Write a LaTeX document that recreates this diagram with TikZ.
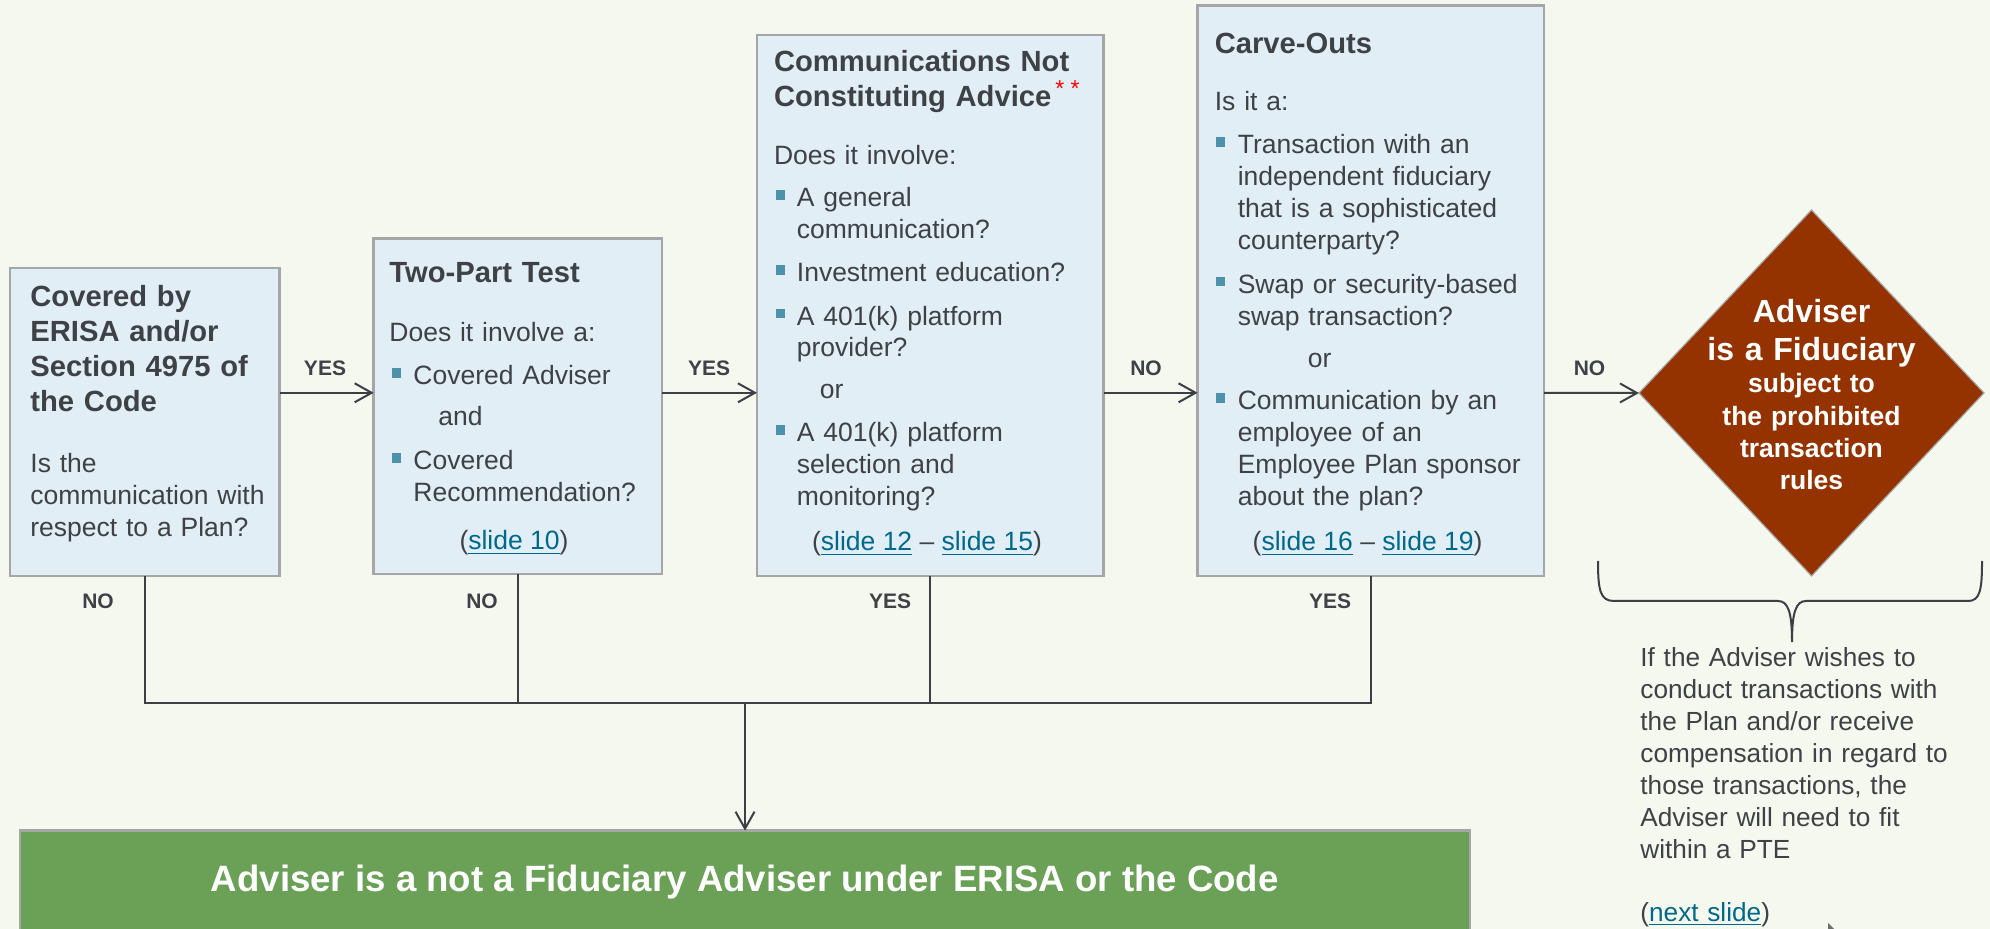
\documentclass[tikz,border=0pt]{standalone}
\usepackage{fontspec}
\setmainfont{Liberation Sans}
\usetikzlibrary{arrows.meta,shapes.geometric,fit}
\definecolor{bgc}{RGB}{244,248,238}
\definecolor{boxfill}{RGB}{226,238,246}
\definecolor{boxline}{RGB}{166,166,166}
\definecolor{txt}{RGB}{62,65,70}
\definecolor{bulc}{RGB}{75,146,170}
\definecolor{linkc}{RGB}{0,104,139}
\definecolor{dfill}{RGB}{149,51,0}
\definecolor{gfill}{RGB}{106,161,87}
\definecolor{lnc}{RGB}{60,63,68}
\definecolor{curc}{RGB}{110,110,110}
\newcommand\fbody{\fontsize{13.25}{15.8}\selectfont}
\newcommand\fttl{\fontsize{14.6}{17.5}\selectfont\bfseries}
\newcommand\flab{\fontsize{10.5}{12}\selectfont\bfseries}
\newcommand\lnk[1]{\textcolor{linkc}{\underline{#1}}}
\newcommand\bulsq[2]{\fill[bulc] (#1,#2-16.5) rectangle ++(9.4,9.4);}
\begin{document}
\begin{tikzpicture}[x=0.5pt,y=-0.5pt,
  box/.style={draw=boxline,line width=1.3pt,fill=boxfill,inner sep=0pt,outer sep=0pt},
  ttl/.style={anchor=base west,inner sep=0pt,align=left,text width=190pt,text=txt,font=\fttl},
  para/.style={anchor=base west,inner sep=0pt,align=left,text width=190pt,text=txt,font=\fbody},
  ctr/.style={anchor=base,inner sep=0pt,text=txt,font=\fbody},
  lab/.style={inner sep=0pt,text=txt,font=\flab},
  ln/.style={draw=lnc,line width=1pt},
  arr/.style={ln,-{Straight Barb[length=8.5pt,width=9.5pt]}},
]
\useasboundingbox (0,0) rectangle (1990,929);
\fill[bgc] (0,0) rectangle (1990,929);

% boxes
\node[box,fit={(10,268) (279.5,576)}] (b1) {};
\node[box,fit={(373.7,238.7) (662,574)}] (b2) {};
\node[box,fit={(757,35.2) (1103.5,576)}] (b3) {};
\node[box,fit={(1197.6,5.4) (1544,576)}] (b4) {};
\node[diamond,draw=boxline,line width=0.6pt,fill=dfill,minimum width=172.5pt,minimum height=183pt,inner sep=0pt,outer sep=0pt] (dia) at (1811.5,393) {};
\node[box,fill=gfill,fit={(20,830.7) (1470,960)}] (gbox) {};

% box 1
\node[ttl] (t1) at (30,307) {Covered by\\ERISA and/or\\Section 4975 of\\the Code};
\node[para] (p1) at (30,473) {Is the\\communication with\\respect to a Plan?};

% box 2
\node[ttl] (t2) at (389,282.5) {Two-Part Test};
\node[para] (p2a) at (389,341.4) {Does it involve a:};
\bulsq{392}{385}
\node[para] (p2b) at (413,385) {Covered Adviser};
\node[para] (p2c) at (438,426) {and};
\bulsq{392}{470}
\node[para] (p2d) at (413,470) {Covered\\Recommendation?};
\node[ctr] (s2) at (514,550) {(\lnk{slide 10})};

% box 3
\node[ttl] (t3) at (773.6,71.6) {Communications Not\\Constituting Advice};
\node[anchor=base west,inner sep=0pt,text=red,font=\fontsize{11.5}{13}\selectfont] (ast) at (1055,97) {* *};
\node[para] (p3a) at (773.6,164.6) {Does it involve:};
\bulsq{775.5}{206.7}
\node[para] (p3b) at (796.5,206.7) {A general\\communication?};
\bulsq{775.5}{282}
\node[para] (p3c) at (796.5,282) {Investment education?};
\bulsq{775.5}{325.3}
\node[para] (p3d) at (796.5,325.3) {A 401(k) platform\\provider?};
\node[para] (p3e) at (819.5,398.8) {or};
\bulsq{775.5}{442}
\node[para] (p3f) at (796.5,442) {A 401(k) platform\\selection and\\monitoring?};
\node[ctr] (s3) at (927,551) {(\lnk{slide 12} – \lnk{slide 15})};

% box 4
\node[ttl] (t4) at (1214.4,53.6) {Carve-Outs};
\node[para] (p4a) at (1214.4,111) {Is it a:};
\bulsq{1216}{153.8}
\node[para,font=\fontsize{13.25}{16}\selectfont] (p4b) at (1237.4,153.8) {Transaction with an\\independent fiduciary\\that is a sophisticated\\counterparty?};
\bulsq{1216}{293.5}
\node[para,font=\fontsize{13.25}{16}\selectfont] (p4c) at (1237.4,293.5) {Swap or security-based\\swap transaction?};
\node[para] (p4d) at (1307.4,367.4) {or};
\bulsq{1216}{410}
\node[para,font=\fontsize{13.25}{16}\selectfont] (p4e) at (1237.4,410) {Communication by an\\employee of an\\Employee Plan sponsor\\about the plan?};
\node[ctr] (s4) at (1367.6,551) {(\lnk{slide 16} – \lnk{slide 19})};

% diamond text
\node[anchor=base,inner sep=0pt,align=center,text width=200pt,text=white,font=\fontsize{16}{19.2}\selectfont\bfseries] (dt1) at (1811.5,322.6) {Adviser\\is a Fiduciary};
\node[anchor=base,inner sep=0pt,align=center,text width=200pt,text=white,font=\fontsize{13.25}{16.1}\selectfont\bfseries] (dt2) at (1811.5,393) {subject to\\the prohibited\\transaction\\rules};

% green text
\node[anchor=base,inner sep=0pt,text=white,font=\fontsize{18.3}{22}\selectfont\bfseries] (gt) at (744.8,891.5) {Adviser is a not a Fiduciary Adviser under ERISA or the Code};

% arrows between boxes
\coordinate (r) at (0,392.8);
\draw[arr] (b1.east |- r) -- (b2.west |- r);
\draw[arr] (b2.east |- r) -- (b3.west |- r);
\draw[arr] (b3.east |- r) -- (b4.west |- r);
\draw[arr] (b4.east |- r) -- (dia.west);

\node[lab] (l1) at (325,368.7) {YES};
\node[lab] (l2) at (709,368.5) {YES};
\node[lab] (l3) at (1146,368.5) {NO};
\node[lab] (l4) at (1589.5,368.5) {NO};
\node[lab] (l5) at (98,601.7) {NO};
\node[lab] (l6) at (482,601.7) {NO};
\node[lab] (l7) at (890,601.7) {YES};
\node[lab] (l8) at (1330,601.7) {YES};

% bottom connectors
\coordinate (j) at (745,702.6);
\draw[ln] (b1.south) -- (b1.south |- j) -- (b4.south |- j) -- (b4.south);
\draw[ln] (b2.south) -- (b2.south |- j);
\draw[ln] (b3.south) -- (b3.south |- j);
\draw[arr] (j) -- (gbox.north -| j);

% brace
\draw[ln] (1598,561) .. controls (1598,590) and (1600,601) .. (1614,601) -- (1778,601) .. controls (1788,601) and (1792,612) .. (1792,642) .. controls (1792,612) and (1796,601) .. (1806,601) -- (1968,601) .. controls (1980,601) and (1982,590) .. (1982,561);

% note
\node[para,text width=220pt,font=\fontsize{13.1}{15.95}\selectfont] (note) at (1640,667) {If the Adviser wishes to\\conduct transactions with\\the Plan and/or receive\\compensation in regard to\\those transactions, the\\Adviser will need to fit\\within a PTE};
\node[para,font=\fontsize{13.1}{15.95}\selectfont] (next) at (1640,921.7) {(\lnk{next slide})};

% cursor tip
\fill[curc] (1828,923) -- (1834,929) -- (1828,929) -- cycle;
\end{tikzpicture}
\end{document}
